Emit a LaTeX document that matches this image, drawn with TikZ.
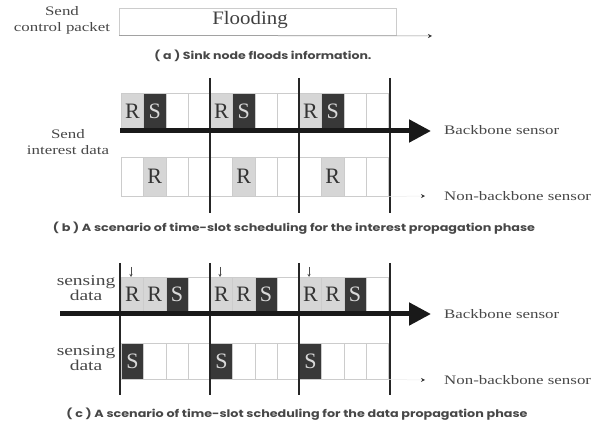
\documentclass[tikz,border=0pt]{standalone}
\usepackage{fontspec}
\setmainfont{Liberation Serif}
\newfontfamily\capfont{Poppins}
\usepackage{graphicx}
\usetikzlibrary{arrows.meta}
\definecolor{gridc}{gray}{0.80}
\definecolor{lightc}{gray}{0.84}
\definecolor{darkc}{gray}{0.22}
\definecolor{txtc}{gray}{0.28}
\newcommand{\wide}[1]{\scalebox{1.3}[1]{#1}}
\begin{document}
\begin{tikzpicture}[x=1pt,y=-1pt,
  cell/.style={draw=gridc,line width=0.5pt,minimum width=22.25pt,inner sep=0pt,anchor=north west,
    font=\fontsize{22}{22}\selectfont,text=black!80},
  rcell/.style={cell,fill=lightc},
  scell/.style={cell,fill=darkc,text=white!85!black},
  hb/.style={minimum height=37pt},
  hbn/.style={minimum height=39pt},
  hc/.style={minimum height=35pt},
  hcn/.style={minimum height=36pt},
  frameline/.style={line width=1.3pt,black!85},
  bbarrow/.style={line width=5pt,black!90,-{Triangle[length=22pt,width=22pt]}},
  tipline/.style={line width=0.5pt,-{Stealth[length=4pt,width=4pt,color=black!80]}},
  lab/.style={font=\fontsize{13}{16}\selectfont,text=txtc,align=center,inner sep=0pt},
  labs/.style={font=\fontsize{15}{15}\selectfont,text=txtc,align=center,inner sep=0pt},
  captxt/.style={font=\capfont\bfseries\fontsize{9}{9}\selectfont,text=black!72,inner sep=0pt}]
\useasboundingbox (0,0) rectangle (600,430);

% ---------- (a) ----------
\node[lab] (la) at (62,20) {\wide{\begin{tabular}{@{}c@{}}Send\\control packet\end{tabular}}};
\node[draw=gridc,line width=0.5pt,minimum width=277pt,minimum height=27pt,anchor=north west,inner sep=0pt] (flood) at (119,8) {};
\node[font=\fontsize{19}{19}\selectfont,text=black!75] (floodt) at (250,20) {\scalebox{1.1}[1]{Flooding}};
\coordinate (aend) at (432,36);
\draw[tipline,black!45] (flood.south west) -- (aend);
\node[captxt] (capa) at (263,56) {\resizebox{217pt}{9.5pt}{( a ) Sink node floods information.}};

% ---------- (b) ----------
\node[lab] (lb) at (68,143) {\wide{\begin{tabular}{@{}c@{}}Send\\interest data\end{tabular}}};
\foreach \k/\fx in {1/121,2/210,3/299}{
  \node[rcell,hb] (bt\k1) at (\fx,93) {R};
  \node[scell,hb] (bt\k2) at ({\fx+22.25},93) {S};
  \node[cell,hb] (bt\k3) at ({\fx+44.5},93) {};
  \node[cell,hb] (bt\k4) at ({\fx+66.75},93) {};
  \node[cell,hbn] (bb\k1) at (\fx,157) {};
  \node[rcell,hbn] (bb\k2) at ({\fx+22.25},157) {R};
  \node[cell,hbn] (bb\k3) at ({\fx+44.5},157) {};
  \node[cell,hbn] (bb\k4) at ({\fx+66.75},157) {};
}
\foreach \x in {210,299,390}{
  \draw[frameline] (\x,78) -- (\x,213);
}
\coordinate (bstart) at (120,131);
\coordinate (btip) at (431,131);
\draw[bbarrow] (bstart) -- (btip);
\node[lab,anchor=west] (bbl) at (444,130) {\wide{Backbone sensor}};
\coordinate (bnend) at (425,196);
\draw[tipline,black!8] (bb34.south east) -- (bnend);
\node[lab,anchor=west] (bnl) at (444,196) {\wide{Non-backbone sensor}};
\node[captxt] (capb) at (294,228) {\resizebox{482pt}{9.5pt}{( b ) A scenario of time-slot scheduling for the interest propagation phase}};

% ---------- (c) ----------
\node[labs] (lct) at (86,290) {\wide{\begin{tabular}{@{}c@{}}sensing\\data\end{tabular}}};
\node[labs] (lcb) at (86,360) {\wide{\begin{tabular}{@{}c@{}}sensing\\data\end{tabular}}};
\foreach \k/\fx in {1/121,2/210,3/299}{
  \node[rcell,hc] (ct\k1) at (\fx,277) {R};
  \node[rcell,hc] (ct\k2) at ({\fx+22.25},277) {R};
  \node[scell,hc] (ct\k3) at ({\fx+44.5},277) {S};
  \node[cell,hc] (ct\k4) at ({\fx+66.75},277) {};
  \node[scell,hcn] (cb\k1) at (\fx,343) {S};
  \node[cell,hcn] (cb\k2) at ({\fx+22.25},343) {};
  \node[cell,hcn] (cb\k3) at ({\fx+44.5},343) {};
  \node[cell,hcn] (cb\k4) at ({\fx+66.75},343) {};
  \coordinate (tk\k) at ({\fx+10},267);
  \draw[-{Stealth[length=3pt,width=3pt]},black!70,line width=0.5pt] (tk\k) -- (ct\k1.north -| tk\k);
}
\foreach \x in {120,210,299,390}{
  \draw[frameline] (\x,263) -- (\x,395);
}
\coordinate (cstart) at (60,314);
\coordinate (ctip) at (431,314);
\draw[bbarrow] (cstart) -- (ctip);
\node[lab,anchor=west] (cbl) at (444,314) {\wide{Backbone sensor}};
\coordinate (cnend) at (425,380);
\draw[tipline,black!8] (cb34.south east) -- (cnend);
\node[lab,anchor=west] (cnl) at (444,380) {\wide{Non-backbone sensor}};
\node[captxt] (capc) at (297,414) {\resizebox{461pt}{9.5pt}{( c ) A scenario of time-slot scheduling for the data propagation phase}};
\end{tikzpicture}
\end{document}
